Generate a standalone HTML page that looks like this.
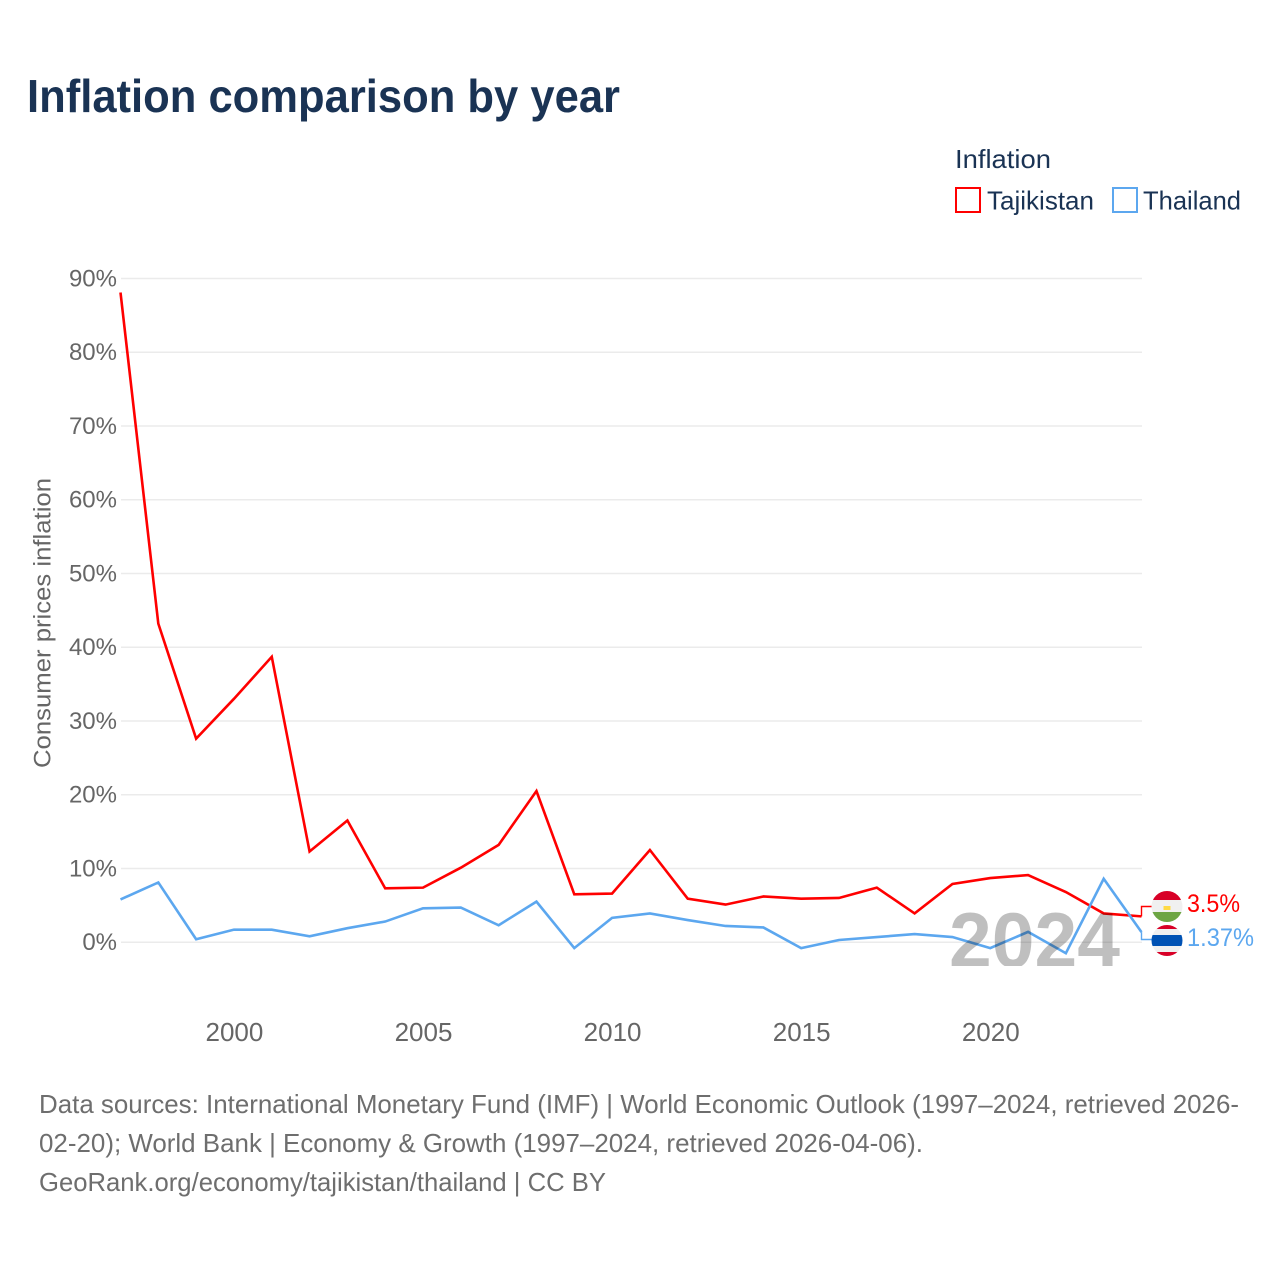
<!DOCTYPE html>
<html lang="en">
<head>
<meta charset="utf-8">
<title>Inflation comparison by year</title>
<style>
html,body{margin:0;padding:0;background:#fff;}
svg{display:block;font-family:"Liberation Sans",sans-serif;}
</style>
</head>
<body>
<svg id="chart" xmlns="http://www.w3.org/2000/svg" width="1280" height="1280" viewBox="0 0 1280 1280">
  <rect width="1280" height="1280" fill="#ffffff"/>
  <text x="27" y="112" font-size="46" font-weight="700" fill="#1a3354" textLength="593" lengthAdjust="spacingAndGlyphs">Inflation comparison by year</text>

  <g>
    <text x="955" y="168" font-size="26" fill="#1a3354" textLength="96" lengthAdjust="spacingAndGlyphs">Inflation</text>
    <g>
      <rect x="956" y="188" width="24" height="24" fill="none" stroke="#ff0000" stroke-width="2"/>
      <text x="987" y="209.5" font-size="26" fill="#1a3354" textLength="107" lengthAdjust="spacingAndGlyphs">Tajikistan</text>
    </g>
    <g>
      <rect x="1113" y="188" width="24" height="24" fill="none" stroke="#5ca7ef" stroke-width="2"/>
      <text x="1143" y="209.5" font-size="26" fill="#1a3354" textLength="98" lengthAdjust="spacingAndGlyphs">Thailand</text>
    </g>
  </g>

  <g id="grid"></g>
  <g id="yticks"></g>
  <g id="xticks"></g>
  <text transform="translate(50.5,768) rotate(-90)" font-size="24.5" fill="#666666" textLength="290" lengthAdjust="spacingAndGlyphs">Consumer prices inflation</text>
  <g id="series"></g>

  <defs>
    <clipPath id="year-clip"><rect x="900" y="890" width="260" height="76"/></clipPath>
    <clipPath id="flag-clip-tj"><circle cx="1167" cy="906.5" r="15.5"/></clipPath>
    <clipPath id="flag-clip-th"><circle cx="1167" cy="940.5" r="15.5"/></clipPath>
  </defs>
  <text x="949" y="967" font-size="78" font-weight="700" fill="#000000" fill-opacity="0.25" clip-path="url(#year-clip)" textLength="171" lengthAdjust="spacingAndGlyphs">2024</text>

  <g clip-path="url(#flag-clip-tj)">
    <rect x="1150" y="890" width="34" height="10" fill="#d80027"/>
    <rect x="1150" y="900" width="34" height="12" fill="#f0f0f0"/>
    <rect x="1150" y="912" width="34" height="11" fill="#6da544"/>
    <rect x="1163.5" y="906" width="7" height="4" fill="#ffda44"/>
  </g>
  <g clip-path="url(#flag-clip-th)">
    <rect x="1150" y="924" width="34" height="5" fill="#d80027"/>
    <rect x="1150" y="929" width="34" height="6" fill="#f0f0f0"/>
    <rect x="1150" y="935" width="34" height="11" fill="#0052b4"/>
    <rect x="1150" y="946" width="34" height="6" fill="#f0f0f0"/>
    <rect x="1150" y="952" width="34" height="5" fill="#d80027"/>
  </g>
  <text x="1187" y="912" font-size="25" fill="#ff0000" textLength="53" lengthAdjust="spacingAndGlyphs">3.5%</text>
  <text x="1187" y="946" font-size="25" fill="#5ca7ef" textLength="67" lengthAdjust="spacingAndGlyphs">1.37%</text>

  <g font-size="26" fill="#6e6e6e">
    <text x="39" y="1113" textLength="1200" lengthAdjust="spacingAndGlyphs">Data sources: International Monetary Fund (IMF) | World Economic Outlook (1997–2024, retrieved 2026-</text>
    <text x="39" y="1152" textLength="884" lengthAdjust="spacingAndGlyphs">02-20); World Bank | Economy &amp; Growth (1997–2024, retrieved 2026-04-06).</text>
    <text x="39" y="1191" textLength="567" lengthAdjust="spacingAndGlyphs">GeoRank.org/economy/tajikistan/thailand | CC BY</text>
  </g>
</svg>
<script>
const years = [1997,1998,1999,2000,2001,2002,2003,2004,2005,2006,2007,2008,2009,2010,2011,2012,2013,2014,2015,2016,2017,2018,2019,2020,2021,2022,2023,2024];
const tajikistan = [88.1,43.2,27.6,33.0,38.7,12.3,16.5,7.3,7.4,10.1,13.2,20.5,6.5,6.6,12.5,5.9,5.1,6.2,5.9,6.0,7.4,3.9,7.9,8.7,9.1,6.8,3.9,3.5];
const thailand = [5.8,8.1,0.4,1.7,1.7,0.8,1.9,2.8,4.6,4.7,2.3,5.5,-0.8,3.3,3.9,3.0,2.2,2.0,-0.8,0.3,0.7,1.1,0.7,-0.8,1.4,-1.5,8.6,1.37];
const yTicks = [0,10,20,30,40,50,60,70,80,90];
const xTicks = [2000,2005,2010,2015,2020];

const NS = 'http://www.w3.org/2000/svg';
function xPos(year){ return 120.5 + (year - 1997) * (1141.5 - 120.5) / (2024 - 1997); }
function yPos(value){ return 942.2 - value * 7.375; }
function make(tag, parentId){
  const el = document.createElementNS(NS, tag);
  document.getElementById(parentId).appendChild(el);
  return el;
}

yTicks.forEach(function(t){
  const line = make('line', 'grid');
  
  
  line.setAttribute('x1', 121);
  line.setAttribute('x2', 1142);
  line.setAttribute('y1', yPos(t));
  line.setAttribute('y2', yPos(t));
  line.setAttribute('stroke', '#ebebeb');
  line.setAttribute('stroke-width', '1.5');

  const label = make('text', 'yticks');
  
  
  label.setAttribute('x', 117);
  label.setAttribute('y', yPos(t) + 8);
  label.setAttribute('text-anchor', 'end');
  label.setAttribute('font-size', '24');
  label.setAttribute('fill', '#666666');
  label.textContent = t + '%';
});

xTicks.forEach(function(t){
  const label = make('text', 'xticks');
  
  
  label.setAttribute('x', xPos(t) + 0.5);
  label.setAttribute('y', 1041);
  label.setAttribute('text-anchor', 'middle');
  label.setAttribute('font-size', '26');
  label.setAttribute('fill', '#666666');
  label.textContent = t;
});

function drawSeries(values, color, flagY){
  const d = values.map(function(v, i){
    return (i ? 'L' : 'M') + xPos(years[i]).toFixed(2) + ' ' + yPos(v).toFixed(2);
  }).join(' ');
  const path = make('path', 'series');
  
  
  path.setAttribute('d', d);
  path.setAttribute('fill', 'none');
  path.setAttribute('stroke', color);
  path.setAttribute('stroke-width', '2.6');
  path.setAttribute('stroke-linejoin', 'miter');

  const endX = xPos(years[years.length - 1]);
  const endY = yPos(values[values.length - 1]);
  const link = make('path', 'series');
  
  
  link.setAttribute('d', 'M' + endX + ' ' + endY + ' V' + flagY + ' H1152');
  link.setAttribute('fill', 'none');
  link.setAttribute('stroke', color);
  link.setAttribute('stroke-width', '1.4');
}
drawSeries(tajikistan, '#ff0000', 906.5);
drawSeries(thailand, '#5ca7ef', 939.5);
</script>
</body>
</html>
